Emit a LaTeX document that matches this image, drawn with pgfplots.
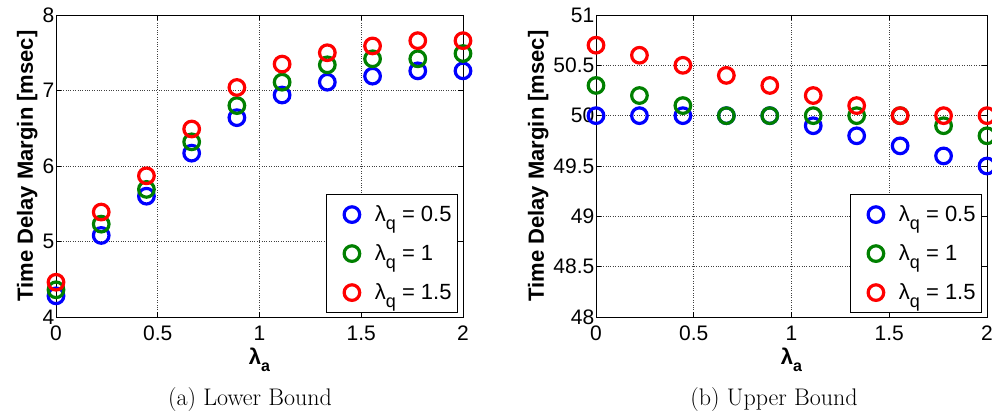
\documentclass[border=0pt]{standalone}
\usepackage{pgfplots}
\pgfplotsset{compat=1.18}
\usepackage{pgfplotstable}
\usepackage{fontspec}
\newfontfamily\arial{Liberation Sans}

\definecolor{mblue}{RGB}{0,0,255}
\definecolor{mgreen}{RGB}{0,128,0}
\definecolor{mred}{RGB}{255,0,0}

% lambda_a, lower bound
\pgfplotstableread{
x      qa    qb    qc
0      4.28  4.36  4.46
0.2222 5.08  5.23  5.39
0.4444 5.60  5.69  5.87
0.6667 6.17  6.32  6.49
0.8889 6.64  6.80  7.04
1.1111 6.94  7.11  7.35
1.3333 7.11  7.34  7.50
1.5556 7.19  7.42  7.59
1.7778 7.26  7.42  7.66
2      7.26  7.49  7.66
}\lowertab

% lambda_a, upper bound
\pgfplotstableread{
x      qa    qb    qc
0      50.0  50.3  50.7
0.2222 50.0  50.2  50.6
0.4444 50.0  50.1  50.5
0.6667 50.0  50.0  50.4
0.8889 50.0  50.0  50.3
1.1111 49.9  50.0  50.2
1.3333 49.8  50.0  50.1
1.5556 49.7  50.0  50.0
1.7778 49.6  49.9  50.0
2      49.5  49.8  50.0
}\uppertab

\newcommand{\lamq}{λ\raisebox{-8bp}{\fontsize{18bp}{18bp}\selectfont q}}

\pgfplotsset{
  mstyle/.style={
    scale only axis,
    anchor=south west,
    height=302bp,
    xmin=0, xmax=2,
    xtick={0,0.5,1,1.5,2},
    font=\arial\fontsize{21bp}{24bp}\selectfont,
    /pgf/number format/assume math mode=true,
    axis line style={line width=0.9bp},
    tick style={line width=0.8bp, black},
    major tick length=5bp,
    tick align=inside,
    xtick pos=both, ytick pos=both,
    yticklabel style={inner xsep=1.5bp, inner ysep=0.5bp},
    xticklabel style={inner ysep=0.5bp, yshift=-8.5bp},
    grid=major,
    grid style={dotted, line width=0.8bp, black!75},
    clip=false,
    xlabel={\arial\bfseries\fontsize{22bp}{24bp}\selectfont λ\raisebox{-7bp}{\fontsize{16bp}{16bp}\selectfont a}},
    xlabel style={yshift=-3bp},
    ylabel={\arial\bfseries\fontsize{22bp}{24bp}\selectfont Time Delay Margin [msec]},
    legend style={
      at={(rel axis cs:1,0)}, anchor=south east,
      xshift=-5bp, yshift=4bp,
      font=\arial\fontsize{22bp}{24bp}\selectfont,
      draw=black, line width=0.8bp,
      inner xsep=6bp, inner ysep=6bp,
      row sep=11bp, column sep=0bp,
      nodes={inner sep=0bp},
      cells={anchor=west},
    },
    legend image code/.code={
      \path[draw=none, fill=none] (-20bp,-14bp) rectangle (23bp,14bp);
      \draw[##1] plot coordinates {(0bp,0bp)};
    },
  },
  circ/.style={only marks, mark=o, mark size=7.8bp,
    mark options={line width=3.2bp, solid}},
}

\begin{document}
\begin{tikzpicture}
\useasboundingbox (0,0) rectangle (992bp,414bp);

\begin{axis}[mstyle, at={(56bp,97bp)}, width=407bp,
  ymin=4, ymax=8, ytick={4,5,6,7,8}]
  \addplot[circ, mblue] table[x=x, y=qa] {\lowertab};
  \addlegendentry{\lamq{} = 0.5}
  \addplot[circ, mgreen] table[x=x, y=qb] {\lowertab};
  \addlegendentry{\lamq{} = 1}
  \addplot[circ, mred] table[x=x, y=qc] {\lowertab};
  \addlegendentry{\lamq{} = 1.5}
\end{axis}

\begin{axis}[mstyle, at={(596bp,97bp)}, width=391bp,
  ymin=48, ymax=51, ytick={48,48.5,49,49.5,50,50.5,51},
  yticklabel style={/pgf/number format/fixed}]
  \addplot[circ, mblue] table[x=x, y=qa] {\uppertab};
  \addlegendentry{\lamq{} = 0.5}
  \addplot[circ, mgreen] table[x=x, y=qb] {\uppertab};
  \addlegendentry{\lamq{} = 1}
  \addplot[circ, mred] table[x=x, y=qc] {\uppertab};
  \addlegendentry{\lamq{} = 1.5}
\end{axis}

\node[font=\fontsize{24bp}{28bp}\selectfont] at (250bp,14bp) {(a) Lower Bound};
\node[font=\fontsize{24bp}{28bp}\selectfont] at (774bp,14bp) {(b) Upper Bound};
\end{tikzpicture}
\end{document}
